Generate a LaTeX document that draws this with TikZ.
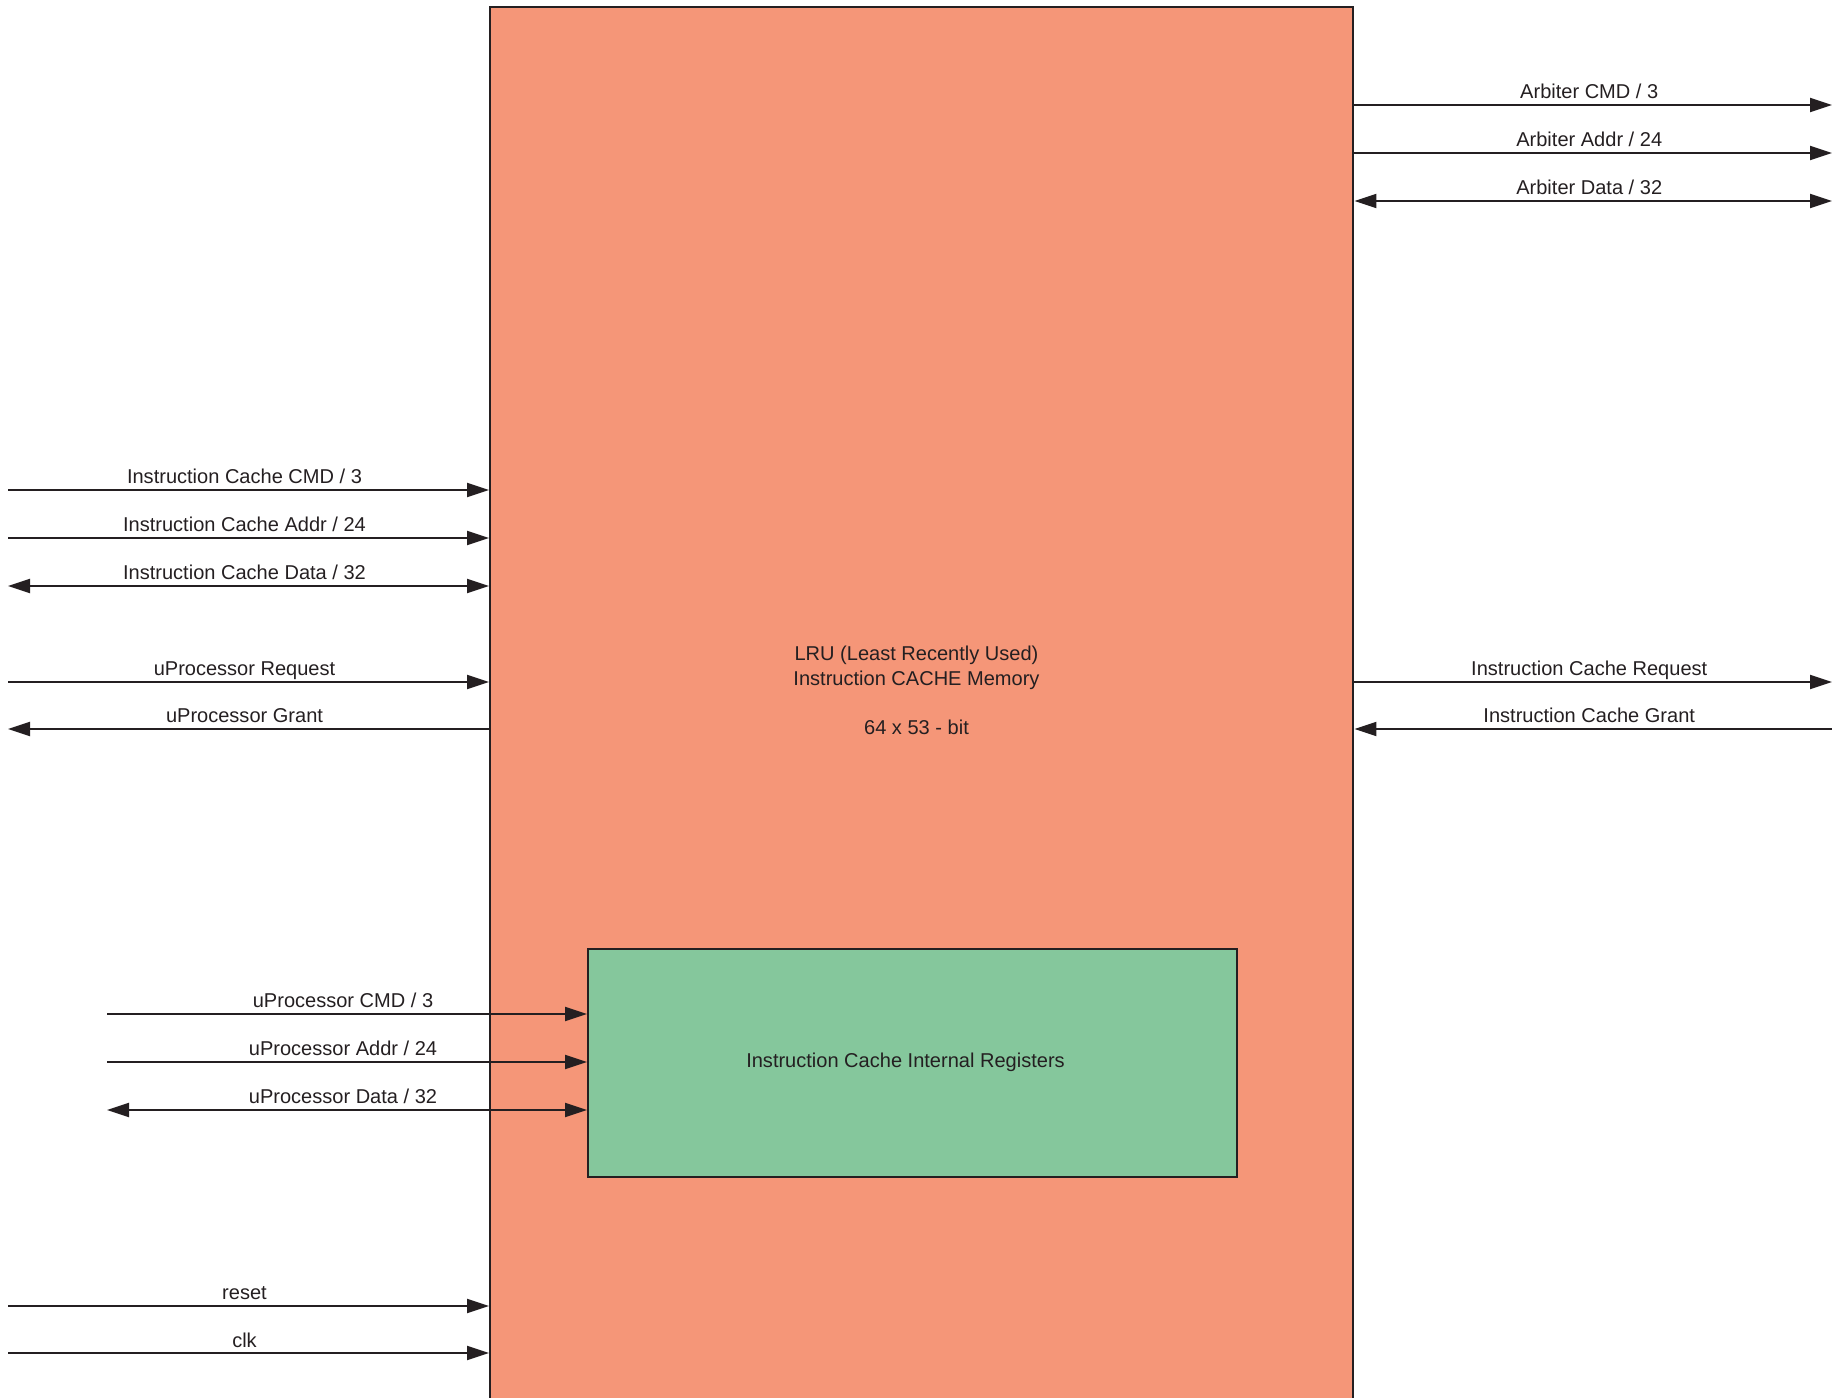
\documentclass[tikz,border=0pt]{standalone}
\usepackage{fontspec}
\setmainfont{Liberation Sans}
\usetikzlibrary{arrows.meta}

\begin{document}
\begin{tikzpicture}[ink/.style={line width=1.4pt, cfInk}, wire/.style={line width=1.1pt, cfInk, >={Triangle[length=0.44cm, width=0.28cm]}, ->}, sig/.style={font=\fontsize{11.4}{14.2}\selectfont, text=cfInk, anchor=base, inner sep=0pt, yshift=0.12cm, xshift=-0.08cm}, body/.style={font=\fontsize{11.4}{14.2}\selectfont, text=cfInk, align=center}, every node/.style={text=cfInk}]
\definecolor{cfInk}{rgb}{0.14,0.12,0.13}
\definecolor{cfSalmon}{rgb}{0.96,0.59,0.47}
\definecolor{cfGreen}{rgb}{0.52,0.78,0.61}
\useasboundingbox (0,0) rectangle (36.66,27.94);
% cache block and register block
\node[ink, draw, fill=cfSalmon, minimum width=17.26cm, minimum height=28.5cm, anchor=north west, inner sep=0pt] (cache) at (9.78,27.82) {};
\node[ink, draw, fill=cfGreen, minimum width=12.98cm, minimum height=4.56cm, anchor=north west, inner sep=0pt] (regs) at (11.74,8.98) {};
\node[body] (regtext) at (18.11,6.70) {Instruction Cache Internal Registers};
\node[body, anchor=base] (title) at (18.33,13.24) {LRU (Least Recently Used)\\Instruction CACHE Memory\\[0.5cm]64 x 53 - bit};
% arbiter side
\coordinate (acmd) at (36.64,25.84);
\coordinate (aaddr) at (36.64,24.88);
\coordinate (adata) at (36.64,23.92);
\coordinate (icreq) at (36.64,14.30);
\coordinate (icgnt) at (36.64,13.36);
\draw[wire] (acmd -| cache.east) -- (acmd) node[sig, midway] {Arbiter CMD / 3};
\draw[wire] (aaddr -| cache.east) -- (aaddr) node[sig, midway] {Arbiter Addr / 24};
\draw[wire, <->] (adata -| cache.east) -- (adata) node[sig, midway] {Arbiter Data / 32};
\draw[wire] (icreq -| cache.east) -- (icreq) node[sig, midway] {Instruction Cache Request};
\draw[wire, <-] (icgnt -| cache.east) -- (icgnt) node[sig, midway] {Instruction Cache Grant};
% processor side
\coordinate (iccmd) at (0.16,18.14);
\coordinate (icaddr) at (0.16,17.18);
\coordinate (icdata) at (0.16,16.22);
\coordinate (upreq) at (0.16,14.30);
\coordinate (upgnt) at (0.16,13.36);
\draw[wire] (iccmd) -- (iccmd -| cache.west) node[sig, midway] {Instruction Cache CMD / 3};
\draw[wire] (icaddr) -- (icaddr -| cache.west) node[sig, midway] {Instruction Cache Addr / 24};
\draw[wire, <->] (icdata) -- (icdata -| cache.west) node[sig, midway] {Instruction Cache Data / 32};
\draw[wire] (upreq) -- (upreq -| cache.west) node[sig, midway] {uProcessor Request};
\draw[wire, <-] (upgnt) -- (upgnt -| cache.west) node[sig, midway] {uProcessor Grant};
% register inputs
\coordinate (upcmd) at (2.14,7.66);
\coordinate (upaddr) at (2.14,6.70);
\coordinate (updata) at (2.14,5.74);
\draw[wire] (upcmd) -- (upcmd -| regs.west) node[sig, midway] {uProcessor CMD / 3};
\draw[wire] (upaddr) -- (upaddr -| regs.west) node[sig, midway] {uProcessor Addr / 24};
\draw[wire, <->] (updata) -- (updata -| regs.west) node[sig, midway] {uProcessor Data / 32};
% reset and clock
\coordinate (rst) at (0.16,1.82);
\coordinate (clk) at (0.16,0.88);
\draw[wire] (rst) -- (rst -| cache.west) node[sig, midway] {reset};
\draw[wire] (clk) -- (clk -| cache.west) node[sig, midway] {clk};
\end{tikzpicture}
\end{document}
